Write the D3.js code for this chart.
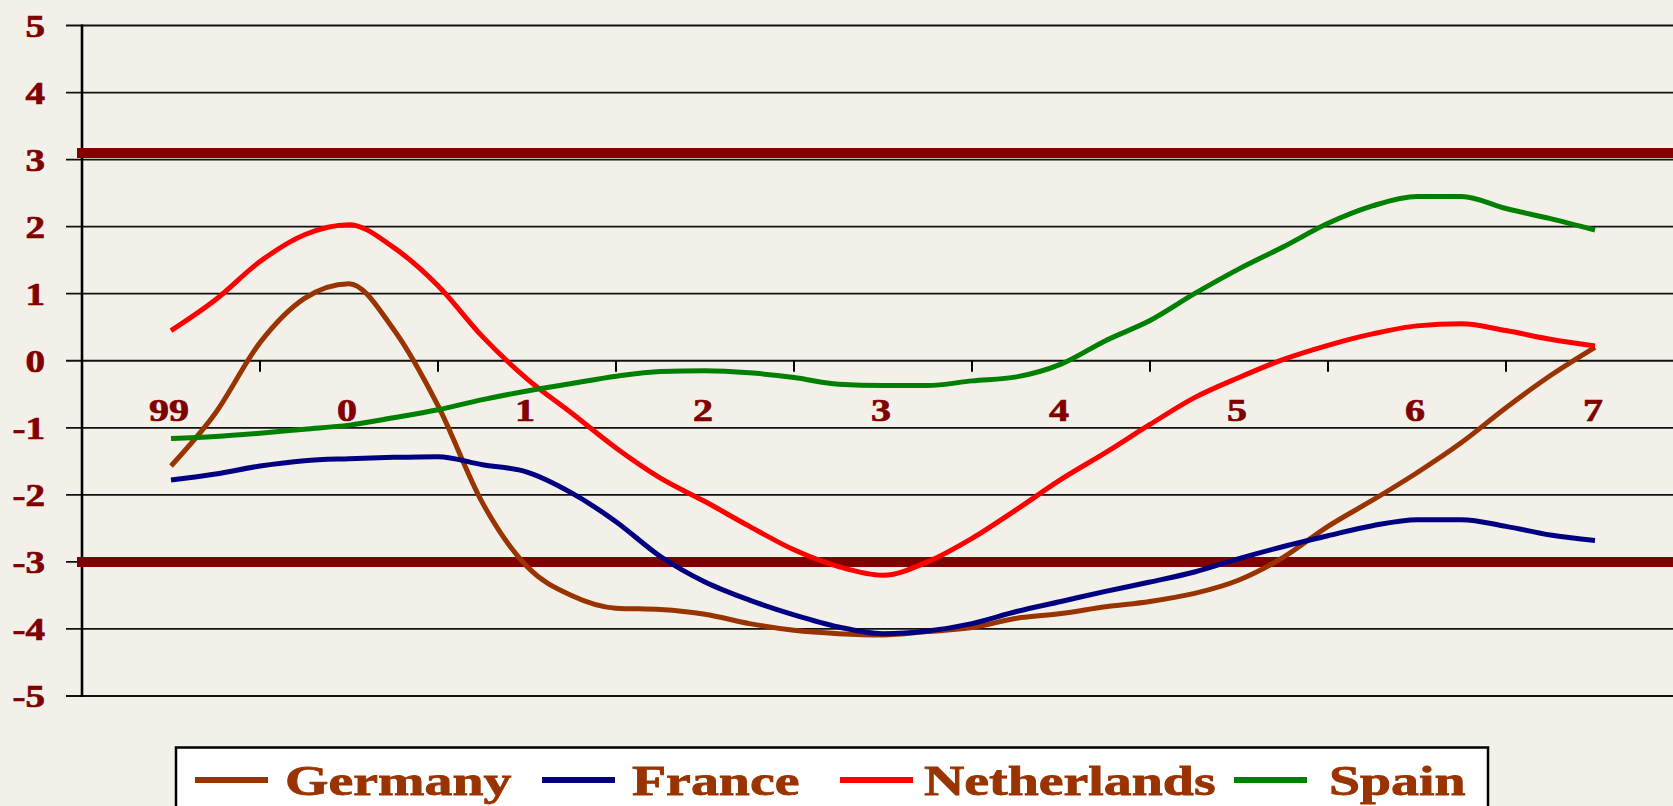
<!DOCTYPE html>
<html>
<head>
<meta charset="utf-8">
<script src="https://cdn.jsdelivr.net/npm/d3@7"></script>
<style>
  html, body { margin: 0; padding: 0; background: #F3F0E9; overflow: hidden; }
  svg { display: block; }
  text { font-family: "Liberation Serif", "Times New Roman", serif; font-weight: bold; }
</style>
</head>
<body>
<svg id="chart" width="1673" height="806"></svg>
<script>
// ---- data ----
const categories = ["99", "0", "1", "2", "3", "4", "5", "6", "7"];
const yTicks = [-5, -4, -3, -2, -1, 0, 1, 2, 3, 4, 5];
const seriesNames = ["Germany", "France", "Netherlands", "Spain"];
const seriesColors = ["#993300", "#000080", "#FF0000", "#008000"];
// quarterly observations from 1999 to 2007
const germany = [-1.57, -0.78, 0.27, 0.93, 1.15, 0.47, -0.67, -2.12, -3.07, -3.5, -3.69, -3.71, -3.78, -3.92, -4.02, -4.07, -4.09, -4.04, -3.98, -3.84, -3.77, -3.67, -3.59, -3.47, -3.27, -2.93, -2.47, -2.08, -1.67, -1.22, -0.70, -0.22, 0.20];
const france = [-1.78, -1.69, -1.57, -1.49, -1.46, -1.44, -1.43, -1.55, -1.66, -1.97, -2.40, -2.92, -3.30, -3.57, -3.79, -3.97, -4.07, -4.03, -3.92, -3.74, -3.59, -3.44, -3.30, -3.15, -2.95, -2.77, -2.61, -2.46, -2.37, -2.37, -2.47, -2.60, -2.68];
const netherlands = [0.45, 0.91, 1.48, 1.88, 2.03, 1.69, 1.12, 0.36, -0.27, -0.78, -1.30, -1.75, -2.10, -2.47, -2.82, -3.07, -3.20, -3.00, -2.65, -2.22, -1.77, -1.37, -0.95, -0.55, -0.25, 0.02, 0.23, 0.40, 0.52, 0.55, 0.45, 0.32, 0.22];
const spain = [-1.16, -1.13, -1.08, -1.02, -0.96, -0.85, -0.73, -0.58, -0.45, -0.34, -0.23, -0.16, -0.15, -0.18, -0.25, -0.35, -0.37, -0.37, -0.30, -0.24, -0.05, 0.30, 0.60, 1.00, 1.37, 1.70, 2.05, 2.31, 2.45, 2.45, 2.27, 2.12, 1.95];
const thresholds = [3.1, -3.0];

const seriesValues = [germany, france, netherlands, spain];

// ---- layout ----
const W = 1673, H = 806;
const svg = d3.select("#chart");

const xBand = d3.scaleBand().domain(categories).range([82, 82 + 9 * 178]).padding(0);
const xQ = d3.scaleLinear()
  .domain([0, germany.length - 1])
  .range([xBand("99") + xBand.bandwidth() / 2, xBand("7") + xBand.bandwidth() / 2]);
const y = d3.scaleLinear().domain([-5, 5]).range([696, 25.5]);

// gridlines
svg.append("g").selectAll("line").data(yTicks).join("line")
  .attr("x1", 66).attr("x2", W)
  .attr("y1", d => y(d)).attr("y2", d => y(d))
  .attr("stroke", "#111").attr("stroke-width", 1.8);

// y axis vertical line
svg.append("line")
  .attr("x1", 82).attr("x2", 82)
  .attr("y1", y(5) - 1).attr("y2", y(-5) + 1)
  .attr("stroke", "#000").attr("stroke-width", 2.6);

// y tick labels
svg.append("g").selectAll("text").data(yTicks).join("text")
  .attr("transform", d => `translate(45,${y(d) + 11}) scale(1.22,1)`)
  .attr("text-anchor", "end")
  .attr("font-size", 32)
  .attr("fill", "#800000")
  .attr("stroke", "#800000").attr("stroke-width", 0.7)
  .text(d => d);

// x axis ticks at band boundaries (below the zero line)
const boundaries = categories.slice(1).map(c => xBand(c)).concat([xBand("7") + xBand.bandwidth()]);
svg.append("g").selectAll("line").data(boundaries).join("line")
  .attr("x1", d => d).attr("x2", d => d)
  .attr("y1", y(0)).attr("y2", y(0) + 11)
  .attr("stroke", "#000").attr("stroke-width", 2);

// x labels
svg.append("g").selectAll("text").data(categories).join("text")
  .attr("transform", d => `translate(${xBand(d) + xBand.bandwidth() / 2 - 2},421) scale(1.25,1)`)
  .attr("text-anchor", "middle")
  .attr("font-size", 32)
  .attr("fill", "#800000")
  .attr("stroke", "#800000").attr("stroke-width", 0.7)
  .text(d => d);

// threshold lines
svg.append("g").selectAll("line").data(thresholds).join("line")
  .attr("x1", 77).attr("x2", W)
  .attr("y1", d => y(d)).attr("y2", d => y(d))
  .attr("stroke", "#800000").attr("stroke-width", 10);

// series lines
const line = d3.line()
  .x((d, i) => xQ(i))
  .y(d => y(d))
  .curve(d3.curveMonotoneX);

svg.append("g").selectAll("path").data(seriesValues).join("path")
  .attr("d", d => line(d))
  .attr("fill", "none")
  .attr("stroke", (d, i) => seriesColors[i])
  .attr("stroke-width", 5)
  .attr("stroke-linejoin", "round");

// legend
const lg = svg.append("g");
lg.append("rect")
  .attr("x", 176).attr("y", 747.5)
  .attr("width", 1312).attr("height", 80)
  .attr("fill", "#fff").attr("stroke", "#000").attr("stroke-width", 2.5);

const legendLineX = [195, 542, 840, 1234];
const legendTextX = [285, 632, 924, 1329];
const legendItems = lg.selectAll("g.item").data(seriesNames).join("g").attr("class", "item");
legendItems.append("line")
  .attr("x1", (d, i) => legendLineX[i]).attr("x2", (d, i) => legendLineX[i] + 73)
  .attr("y1", 780).attr("y2", 780)
  .attr("stroke", (d, i) => seriesColors[i]).attr("stroke-width", 6);
legendItems.append("text")
  .attr("transform", (d, i) => `translate(${legendTextX[i]},795) scale(1.33,1)`)
  .attr("font-size", 42)
  .attr("fill", "#993300")
  .attr("stroke", "#993300").attr("stroke-width", 0.8)
  .text(d => d);
</script>
</body>
</html>
